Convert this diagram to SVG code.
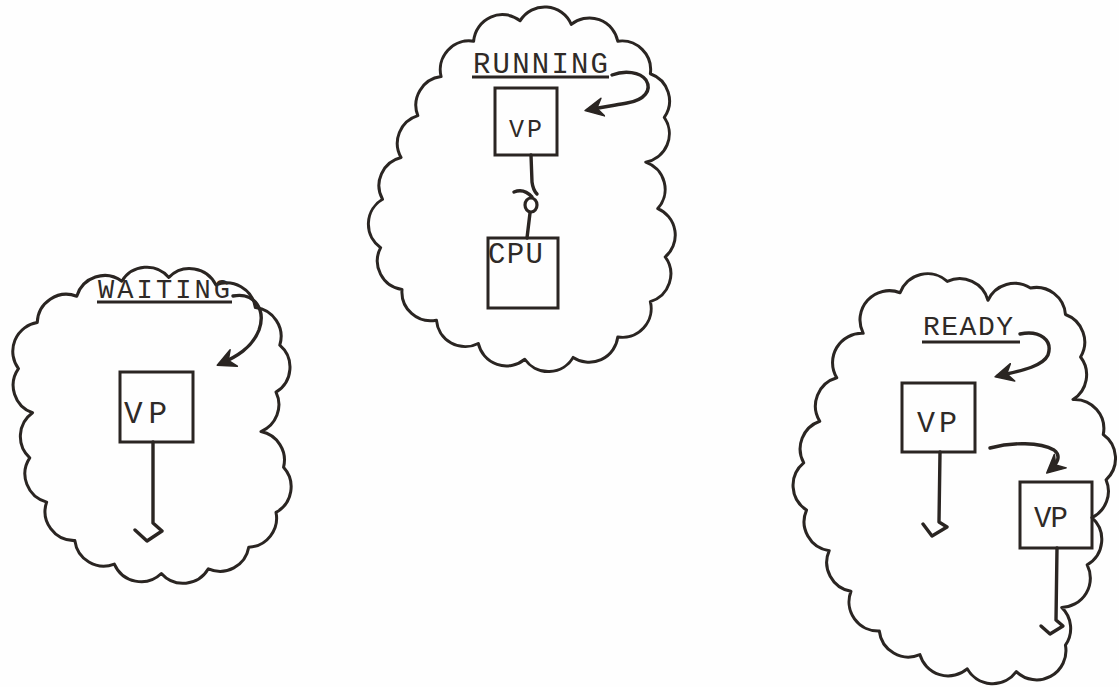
<svg xmlns="http://www.w3.org/2000/svg" width="1119" height="687" viewBox="0 0 1119 687">
<defs>
<style>
.cloud{fill:none;stroke:#2a2522;stroke-width:3.2;stroke-linejoin:round}
.box{fill:none;stroke:#2a2522;stroke-width:3}
.ln{fill:none;stroke:#2a2522;stroke-width:3.4;stroke-linecap:round;stroke-linejoin:round}
.ul{stroke:#2a2522;stroke-width:3}
.t{font-family:"Liberation Mono","DejaVu Sans Mono",monospace;fill:#2f2a27}
</style>
<marker id="ah" viewBox="0 0 20 20" refX="16" refY="10" markerWidth="20" markerHeight="20" markerUnits="userSpaceOnUse" orient="auto">
<path d="M1,1 L19,10 L1,19 L7,10 z" fill="#2a2522" stroke="#2a2522" stroke-width="1.5" stroke-linejoin="round"/>
</marker>
</defs>
<rect width="1119" height="687" fill="#fefefe"/>

<g id="cloud-running">
<path class="cloud" transform="translate(522,190) scale(0.93) translate(-522,-190)" d="M470,30 A31,31 0 0 1 520,8 A31,31 0 0 1 575,12 A31,31 0 0 1 625,30 A31,31 0 0 1 660,65 A31,31 0 0 1 675,112 A31,31 0 0 1 655,160 A31,31 0 0 1 668,210 A31,31 0 0 1 676,262 A31,31 0 0 1 660,310 A31,31 0 0 1 625,348 A31,31 0 0 1 577,370 A31,31 0 0 1 525,372 A31,31 0 0 1 475,355 A31,31 0 0 1 430,330 A31,31 0 0 1 393,297 A31,31 0 0 1 370,252 A31,31 0 0 1 372,200 A31,31 0 0 1 392,155 A31,31 0 0 1 410,110 A31,31 0 0 1 435,68 A31,31 0 0 1 470,30 z"/>
<text class="t" x="473" y="73" font-size="29" textLength="135" lengthAdjust="spacing">RUNNING</text>
<line class="ul" x1="472" y1="77" x2="609" y2="77"/>
</g>

<g id="vp-running">
<rect class="box" x="495" y="88" width="62" height="67"/>
<text class="t" x="509" y="137" font-size="25" textLength="33" lengthAdjust="spacing">VP</text>
</g>

<g id="cpu">
<rect class="box" x="488" y="238" width="70" height="70"/>
<text class="t" x="488" y="263" font-size="29" textLength="55" lengthAdjust="spacing">CPU</text>
</g>

<g id="cloud-waiting">
<path class="cloud" transform="translate(151,425) scale(0.94) translate(-151,-425)" d="M72,288 A31,31 0 0 1 120,272 A31,31 0 0 1 170,268 A31,31 0 0 1 220,276 A31,31 0 0 1 262,300 A31,31 0 0 1 288,340 A31,31 0 0 1 284,390 A31,31 0 0 1 268,432 A31,31 0 0 1 292,470 A31,31 0 0 1 284,518 A31,31 0 0 1 255,555 A31,31 0 0 1 212,578 A31,31 0 0 1 162,583 A31,31 0 0 1 112,573 A31,31 0 0 1 70,548 A31,31 0 0 1 40,507 A31,31 0 0 1 22,460 A31,31 0 0 1 25,412 A31,31 0 0 1 10,365 A31,31 0 0 1 30,316 A31,31 0 0 1 72,288 z"/>
<text class="t" x="98" y="298" font-size="27" textLength="132" lengthAdjust="spacing">WAITING</text>
<line class="ul" x1="97" y1="302" x2="232" y2="302"/>
</g>

<g id="vp-waiting">
<rect class="box" x="120" y="372" width="73" height="70"/>
<text class="t" x="124" y="423" font-size="31" textLength="43" lengthAdjust="spacing">VP</text>
</g>

<g id="cloud-ready">
<path class="cloud" transform="translate(953,477) scale(0.945) translate(-953,-477)" d="M897,282 A31,31 0 0 1 947,270 A31,31 0 0 1 990,290 A31,31 0 0 1 1035,277 A31,31 0 0 1 1072,305 A31,31 0 0 1 1088,350 A31,31 0 0 1 1080,395 A31,31 0 0 1 1112,432 A31,31 0 0 1 1115,480 A31,31 0 0 1 1100,520 A31,31 0 0 1 1095,570 A31,31 0 0 1 1068,615 A31,31 0 0 1 1072,655 A31,31 0 0 1 1020,683 A31,31 0 0 1 968,680 A31,31 0 0 1 918,665 A31,31 0 0 1 875,640 A31,31 0 0 1 845,598 A31,31 0 0 1 822,555 A31,31 0 0 1 798,512 A31,31 0 0 1 795,462 A31,31 0 0 1 812,418 A31,31 0 0 1 830,372 A31,31 0 0 1 858,325 A31,31 0 0 1 897,282 z"/>
<text class="t" x="923" y="335" font-size="28" textLength="90" lengthAdjust="spacing">READY</text>
<line class="ul" x1="922" y1="342" x2="1020" y2="342"/>
</g>

<g id="vp-ready-1">
<rect class="box" x="902" y="383" width="73" height="69"/>
<text class="t" x="917" y="432" font-size="30" textLength="40" lengthAdjust="spacing">VP</text>
</g>

<g id="vp-ready-2">
<rect class="box" x="1020" y="482" width="72" height="66"/>
<text class="t" x="1034" y="527" font-size="29" textLength="34" lengthAdjust="spacing">VP</text>
</g>

<g id="connectors">
<path class="ln" marker-end="url(#ah)" d="M612,75 C625,70 640,72 646,80 C652,90 645,100 627,103 C610,106 598,108 588,110"/>
<path class="ln" d="M531,155 L532,182 Q533,190 537,194"/>
<path class="ln" d="M514,192 Q524,188 532,197"/>
<ellipse cx="531" cy="205" rx="6" ry="7" fill="none" stroke="#2a2522" stroke-width="3.2"/>
<path class="ln" d="M530,213 L527,238"/>

<path class="ln" marker-end="url(#ah)" d="M233,296 C255,292 266,310 259,330 C252,348 236,357 220,364"/>
<path class="ln" d="M153,442 L153,523 L162,531 L147,541 L135,530"/>

<path class="ln" marker-end="url(#ah)" d="M1020,334 C1040,330 1053,340 1048,355 C1042,368 1014,372 998,376"/>
<path class="ln" d="M940,452 L939,522 L947,527 L932,536 L923,524"/>
<path class="ln" marker-end="url(#ah)" d="M990,448 C1012,442 1040,442 1054,450 C1062,456 1057,464 1049,471"/>
<path class="ln" d="M1057,548 L1056,620 L1063,626 L1050,634 L1041,626"/>
</g>
</svg>
